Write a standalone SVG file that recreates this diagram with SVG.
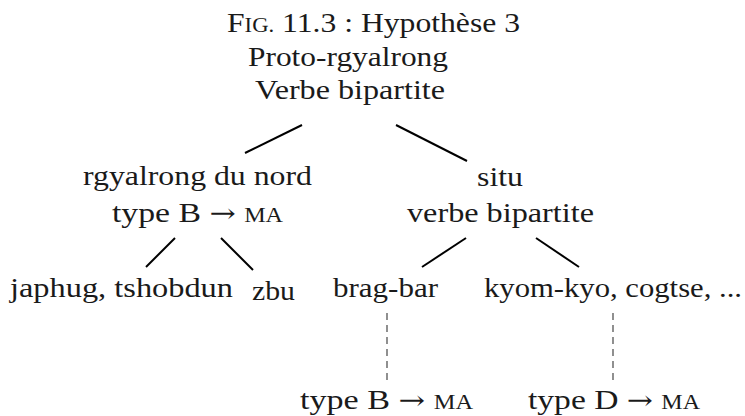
<svg xmlns="http://www.w3.org/2000/svg" width="745" height="416" viewBox="0 0 745 416">
<style>
text{font-family:"Liberation Serif","DejaVu Serif",serif;font-size:28px;fill:#1a1a1a}
.sc{font-size:20px}
.ar{font-family:"DejaVu Serif",serif;font-size:26px}
.edge{stroke:#000;stroke-width:2;fill:none}
.dash{stroke:#555;stroke-width:1.3;stroke-dasharray:7,5;fill:none}
</style>
<rect width="745" height="416" fill="#fff"/>
<text id="title" x="227" y="32" textLength="293" lengthAdjust="spacingAndGlyphs">F<tspan class="sc">IG.</tspan> 11.3 : Hypothèse 3</text>
<g id="root">
<text x="248" y="66" textLength="200" lengthAdjust="spacingAndGlyphs">Proto-rgyalrong</text>
<text x="255" y="99" textLength="190" lengthAdjust="spacingAndGlyphs">Verbe bipartite</text>
</g>
<g id="nord">
<text x="83" y="185" textLength="229" lengthAdjust="spacingAndGlyphs">rgyalrong du nord</text>
<text x="112" y="222" textLength="171" lengthAdjust="spacingAndGlyphs">type B <tspan class="ar">→</tspan> <tspan class="sc">MA</tspan></text>
</g>
<g id="situ">
<text x="477" y="186" textLength="46" lengthAdjust="spacingAndGlyphs">situ</text>
<text x="407" y="222" textLength="187" lengthAdjust="spacingAndGlyphs">verbe bipartite</text>
</g>
<g id="japhug"><text x="10" y="297" textLength="223" lengthAdjust="spacingAndGlyphs">japhug, tshobdun</text></g>
<g id="zbu"><text x="252" y="300" textLength="43" lengthAdjust="spacingAndGlyphs">zbu</text></g>
<g id="bragbar"><text x="333" y="297" textLength="105" lengthAdjust="spacingAndGlyphs">brag-bar</text></g>
<g id="kyomkyo"><text x="484" y="297" textLength="258" lengthAdjust="spacingAndGlyphs">kyom-kyo, cogtse, ...</text></g>
<g id="typeB"><text x="300" y="409" textLength="173" lengthAdjust="spacingAndGlyphs">type B <tspan class="ar">→</tspan> <tspan class="sc">MA</tspan></text></g>
<g id="typeD"><text x="528" y="409" textLength="172" lengthAdjust="spacingAndGlyphs">type D <tspan class="ar">→</tspan> <tspan class="sc">MA</tspan></text></g>
<g id="connectors">
<line class="edge" x1="302" y1="125" x2="245" y2="153"/>
<line class="edge" x1="396" y1="125" x2="467" y2="161"/>
<line class="edge" x1="175" y1="238" x2="146" y2="267"/>
<line class="edge" x1="221" y1="238" x2="253" y2="270"/>
<line class="edge" x1="466" y1="238" x2="422" y2="267"/>
<line class="edge" x1="536" y1="238" x2="579" y2="267"/>
<line class="dash" x1="387" y1="313" x2="387" y2="381"/>
<line class="dash" x1="613" y1="313" x2="613" y2="381"/>
</g>
</svg>
